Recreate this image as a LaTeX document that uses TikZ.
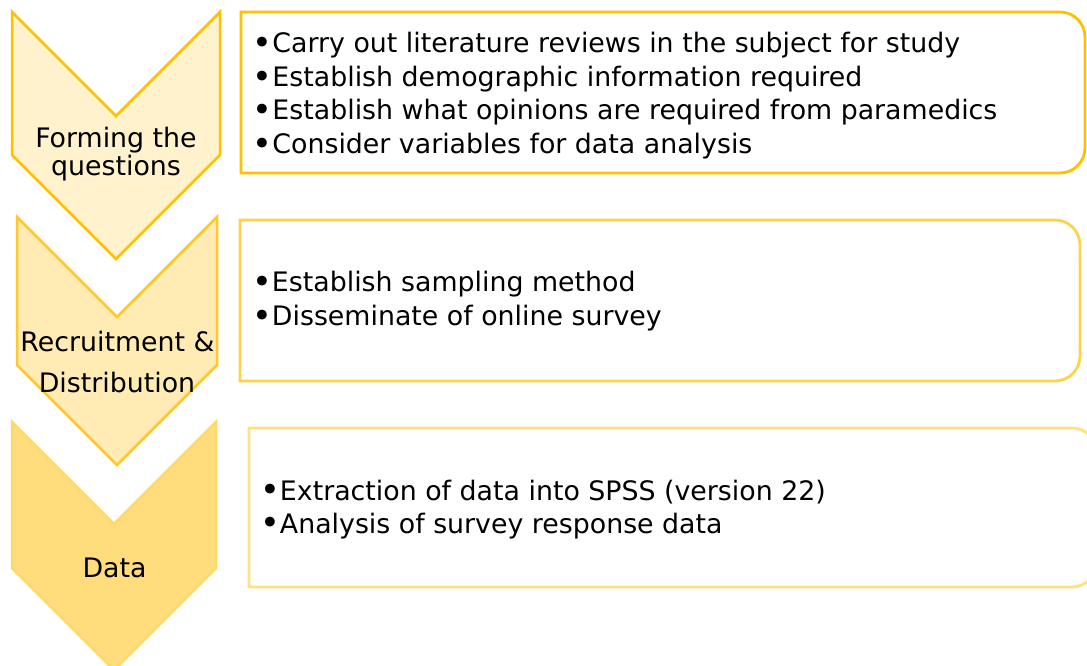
\documentclass[tikz,border=0pt]{standalone}
\usepackage{fontspec}
\setmainfont{DejaVu Sans}
\definecolor{cfillA}{HTML}{FFF2CC}
\definecolor{cdrawA}{HTML}{FFC000}
\definecolor{cfillB}{HTML}{FFEBB3}
\definecolor{cdrawB}{HTML}{FFC82C}
\definecolor{cfillC}{HTML}{FFDC7C}
\definecolor{cdrawC}{HTML}{FFD966}
\definecolor{bdrawA}{HTML}{FFC000}
\definecolor{bdrawB}{HTML}{FFD24D}
\definecolor{bdrawC}{HTML}{FFE083}
\newcommand\mybul{\raisebox{-1.8pt}{\scalebox{1.25}{•}}}
\tikzset{
  chevA/.style={fill=cfillA, draw=cdrawA, line width=2.5pt, line join=miter},
  chevB/.style={fill=cfillB, draw=cdrawB, line width=2.5pt, line join=miter},
  chevC/.style={fill=cfillC, draw=cdrawC, line width=2.5pt, line join=miter},
  boxA/.style={fill=white, draw=bdrawA, line width=2.8pt},
  boxB/.style={fill=white, draw=bdrawB, line width=2.8pt},
  boxC/.style={fill=white, draw=bdrawC, line width=2.8pt},
  lbl/.style={inner sep=0pt, font=\fontsize{26.8}{33.5}\selectfont, text=black},
  item/.style={lbl, anchor=base west},
  chevtext/.style={lbl, anchor=base}
}
\begin{document}
\begin{tikzpicture}[x=1pt, y=1pt]
\clip (0,0) rectangle (1087,665);
\fill[white] (0,0) rectangle (1087,665);
% chevrons
\draw[chevA] (12,653) -- (116,549) -- (220,653) -- (220,510) -- (116,406) -- (12,510) -- cycle;
\draw[chevB] (17,448) -- (117,348) -- (217,448) -- (217,300) -- (117,200) -- (17,300) -- cycle;
\draw[chevC] (12,243) -- (114,141) -- (216,243) -- (216,97) -- (114,-5) -- (12,97) -- cycle;
% boxes
\draw[boxA] (241,653) -- (1060,653) arc[start angle=90, end angle=0, radius=25] -- (1085,517) arc[start angle=0, end angle=-90, radius=25] -- (241,492) -- cycle;
\draw[boxB] (240,445) -- (1055,445) arc[start angle=90, end angle=0, radius=25] -- (1080,309) arc[start angle=0, end angle=-90, radius=25] -- (240,284) -- cycle;
\draw[boxC] (249,237) -- (1072,237) arc[start angle=90, end angle=0, radius=25] -- (1097,103) arc[start angle=0, end angle=-90, radius=25] -- (249,78) -- cycle;
% chevron labels
\node[chevtext] (c1a) at (116,517) {Forming the};
\node[chevtext] (c1b) at (116,489) {questions};
\node[chevtext] (c2a) at (117.5,313) {Recruitment \&};
\node[chevtext] (c2b) at (117,273) {Distribution};
\node[chevtext] (c3a) at (114.5,88) {Data};
% box items
\node[item] (b1a) at (252.5,612) {\mybul Carry out literature reviews in the subject for study};
\node[item] (b1b) at (252.5,578.5) {\mybul Establish demographic information required};
\node[item] (b1c) at (252.5,545) {\mybul Establish what opinions are required from paramedics};
\node[item] (b1d) at (252.5,511.5) {\mybul Consider variables for data analysis};
\node[item] (b2a) at (252,373) {\mybul Establish sampling method};
\node[item] (b2b) at (252,339.5) {\mybul Disseminate of online survey};
\node[item] (b3a) at (260,165) {\mybul Extraction of data into SPSS (version 22)};
\node[item] (b3b) at (260,132) {\mybul Analysis of survey response data};
\end{tikzpicture}
\end{document}
